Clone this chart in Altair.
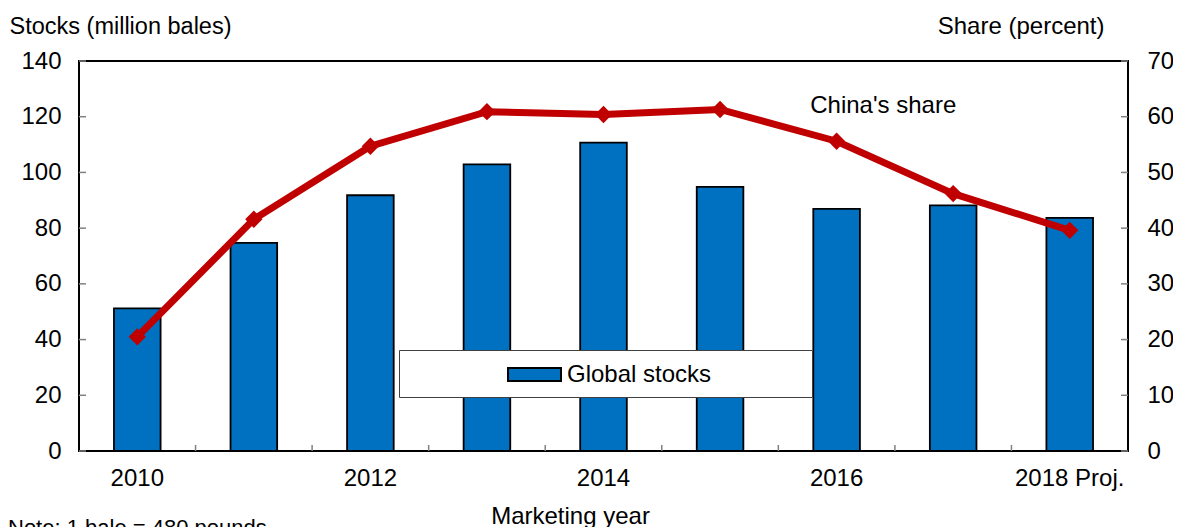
import altair as alt
import pandas as pd

# ---- data ----
years = ["2010", "2011", "2012", "2013", "2014", "2015", "2016", "2017", "2018 Proj."]
stocks = [51.2, 74.7, 91.8, 102.9, 110.7, 94.8, 86.9, 88.2, 83.7]
share = [20.5, 41.6, 54.7, 60.9, 60.4, 61.3, 55.6, 46.2, 39.6]
x_labels = ["2010", "2012", "2014", "2016", "2018 Proj."]
left_ticks = [0, 20, 40, 60, 80, 100, 120, 140]
right_ticks = [0, 10, 20, 30, 40, 50, 60, 70]
bar_series = "Global stocks"
line_label = "China's share"
line_label_year = "2016"
line_label_share = 61.9
note = "Note: 1 bale = 480 pounds"

W, H = 1049, 390
FONT = "Liberation Sans"
FS = 24
BLUE = "#0070C0"
RED = "#C00000"

df = pd.DataFrame({"year": years, "stocks": stocks, "share": share,
                   "series": [bar_series] * len(years)})
df_lt = pd.DataFrame({"v": left_ticks})
df_rt = pd.DataFrame({"v": right_ticks})
df_xt = pd.DataFrame({"year": years[:-1]})
df_lab = pd.DataFrame({"year": [line_label_year], "share": [line_label_share], "label": [line_label]})

x_scale = alt.Scale(domain=years, paddingInner=0, paddingOuter=0)
x_axis = alt.Axis(values=x_labels, title="Marketing year", ticks=False, tickSize=0, domain=False,
                  grid=False, labelFontSize=FS, labelPadding=15, labelAngle=0, labelColor="black",
                  titleFontSize=FS, titleFontWeight="normal", titleX=491, titleY=72,
                  titleBaseline="alphabetic", titleAlign="center", titleColor="black")
yl_scale = alt.Scale(domain=[0, 140], nice=False)
yl_axis = alt.Axis(values=left_ticks, title="Stocks (million bales)", ticks=False, tickSize=0,
                   domain=False, grid=False, labelFontSize=FS, labelPadding=18, labelColor="black",
                   titleAngle=0, titleAlign="left", titleBaseline="alphabetic", titleX=-70, titleY=-28,
                   titleFontSize=23.5, titleFontWeight="normal", titleColor="black")
yr_scale = alt.Scale(domain=[0, 70], nice=False)
yr_axis = alt.Axis(values=right_ticks, title="Share (percent)", orient="right", ticks=False, tickSize=0,
                   domain=False, grid=False, labelFontSize=FS, labelPadding=19, labelColor="black",
                   titleAngle=0, titleAlign="right", titleBaseline="alphabetic", titleX=-24, titleY=-28,
                   titleFontSize=FS, titleFontWeight="normal", titleColor="black")

pad_right = "\u2800" * 5
legend = alt.Legend(title=None, orient="none", legendX=320, legendY=289,
                    strokeColor="#404040", fillColor="white",
                    padding=10, symbolType="M-2,-0.5H2V0.5H-2Z", symbolSize=702,
                    symbolStrokeColor="black", symbolStrokeWidth=2, symbolOpacity=1,
                    labelFontSize=FS, labelOffset=18, symbolOffset=111, labelColor="black",
                    labelLimit=400, labelExpr="datum.label + '" + pad_right + "'")

bars = alt.Chart(df).mark_bar(width=alt.RelativeBandSize(0.4), stroke="black", strokeWidth=1.8).encode(
    x=alt.X("year:N", scale=x_scale, axis=x_axis),
    y=alt.Y("stocks:Q", scale=yl_scale, axis=yl_axis),
    color=alt.Color("series:N", scale=alt.Scale(domain=[bar_series], range=[BLUE]), legend=legend),
)
lticks = alt.Chart(df_lt).mark_rule(color="#808080", strokeWidth=1.5).encode(
    y=alt.Y("v:Q", scale=yl_scale, axis=yl_axis), x=alt.value(0), x2=alt.value(7))
xticks = alt.Chart(df_xt).mark_rule(color="#808080", strokeWidth=1.5).encode(
    x=alt.X("year:N", bandPosition=1, scale=x_scale, axis=x_axis), y=alt.value(H - 6), y2=alt.value(H))

line = alt.Chart(df).mark_line(color=RED, strokeWidth=7).encode(
    x=alt.X("year:N", scale=x_scale, axis=x_axis),
    y=alt.Y("share:Q", scale=yr_scale, axis=yr_axis))
pts = alt.Chart(df).mark_point(shape="diamond", filled=True, size=300, color=RED, opacity=1).encode(
    x=alt.X("year:N", scale=x_scale, axis=x_axis),
    y=alt.Y("share:Q", scale=yr_scale, axis=yr_axis))
lab = alt.Chart(df_lab).mark_text(fontSize=FS, font=FONT, baseline="middle", align="center", color="black").encode(
    x=alt.X("year:N", bandPosition=0.9, scale=x_scale, axis=x_axis),
    y=alt.Y("share:Q", scale=yr_scale, axis=yr_axis),
    text="label:N")
rticks = alt.Chart(df_rt).mark_rule(color="#808080", strokeWidth=1.5).encode(
    y=alt.Y("v:Q", scale=yr_scale, axis=yr_axis), x=alt.value(W - 7), x2=alt.value(W))

left = alt.layer(bars, lticks, xticks)
right = alt.layer(line, pts, lab, rticks)

chart = alt.layer(left, right).resolve_scale(y="independent").properties(
    width=W, height=H,
    autosize=alt.AutoSizeParams(type="none"),
    padding={"left": 71, "top": 53, "right": 45, "bottom": 76},
    title=alt.TitleParams(note, orient="bottom", anchor="start", dx=-71, offset=-10, fontSize=22,
                          fontWeight="normal", baseline="top", frame="group", color="black"),
).configure(font=FONT).configure_view(stroke="black", strokeWidth=2)

chart.save("out.html", embed_options={"renderer": "svg", "actions": False})
